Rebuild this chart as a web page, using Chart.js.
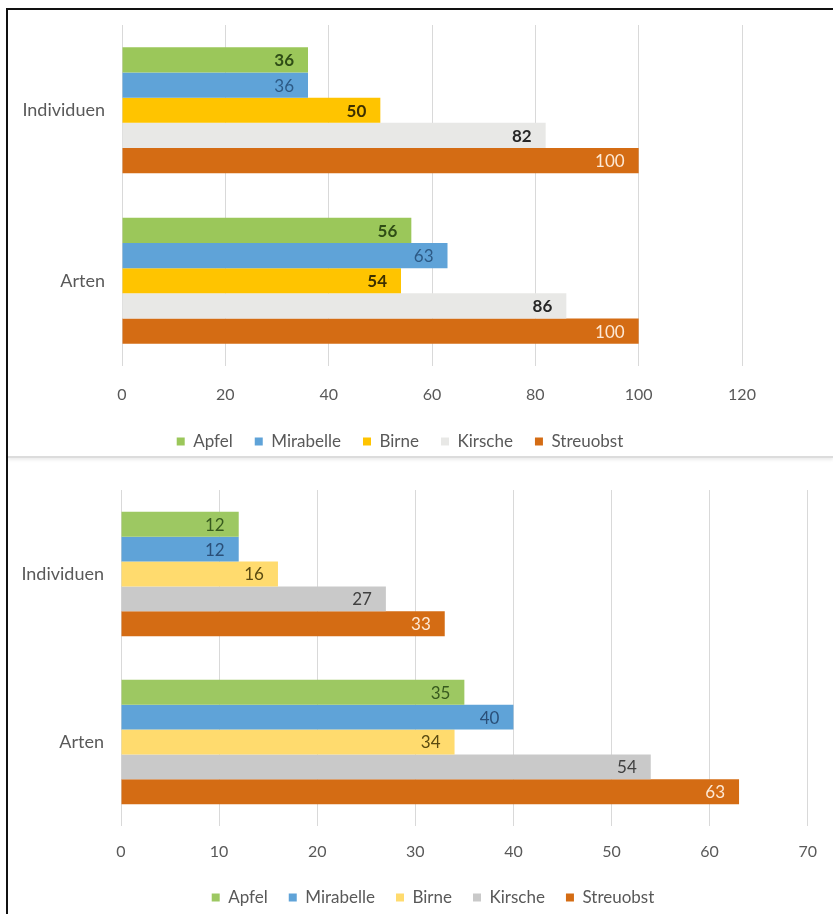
<!DOCTYPE html>
<html>
<head>
<meta charset="utf-8">
<script src="https://cdn.jsdelivr.net/npm/chart.js@4"></script>
<style>
  body { margin: 0; background: #fff; }
  #frame { position: absolute; left: 6px; top: 8px; width: 840px; height: 920px;
           border-left: 2px solid #111; border-top: 2px solid #111; }
  #topBox { position: absolute; left: 0; top: 0; width: 825px; height: 446px;
            border-bottom: 2px solid #dcdcdc; box-shadow: 0 2px 3px rgba(0,0,0,0.08); }
  #bottomBox { position: absolute; left: 0; top: 450px; width: 825px; height: 456px; }
</style>
</head>
<body>
<div id="frame">
  <div id="topBox"><canvas id="topChart" width="825" height="446"></canvas></div>
  <div id="bottomBox"><canvas id="bottomChart" width="825" height="456"></canvas></div>
</div>
<script>
'use strict';

const categories = ['Individuen', 'Arten'];
const seriesNames = ['Apfel', 'Mirabelle', 'Birne', 'Kirsche', 'Streuobst'];

// oberes Diagramm
const apfelTop = [36, 56];
const mirabelleTop = [36, 63];
const birneTop = [50, 54];
const kirscheTop = [82, 86];
const streuobstTop = [100, 100];

// unteres Diagramm
const apfelBottom = [12, 35];
const mirabelleBottom = [12, 40];
const birneBottom = [16, 34];
const kirscheBottom = [27, 54];
const streuobstBottom = [33, 63];

const topTicks = [0, 20, 40, 60, 80, 100, 120];
const bottomTicks = [0, 10, 20, 30, 40, 50, 60, 70];

const FONT = 'Lato';
const GREY = '#595959';

// value labels inside the bar end
const barLabels = {
  id: 'barLabels',
  afterDatasetsDraw(chart) {
    const c = chart.ctx;
    c.save();
    c.textAlign = 'right';
    c.textBaseline = 'middle';
    chart.data.datasets.forEach((ds, i) => {
      const meta = chart.getDatasetMeta(i);
      c.font = (ds.labelWeight || 'normal') + ' 17px ' + FONT;
      meta.data.forEach((bar, j) => {
        c.fillStyle = ds.labelColor;
        c.fillText(Math.round(ds.data[j]), bar.x - 14, bar.y + 1);
      });
    });
    c.restore();
  }
};

// move the legend a bit (it is not centred under the plot in the original)
const legendShift = {
  id: 'legendShift',
  afterLayout(chart, args, opts) {
    const lg = chart.legend;
    lg.left += opts.dx; lg.right += opts.dx;
    lg.top += opts.dy; lg.bottom += opts.dy;
  }
};

function makeChart(id, values, colors, labelColors, weights, ticks, dims) {
  return new Chart(document.getElementById(id), {
    type: 'bar',
    data: {
      labels: categories,
      datasets: seriesNames.map((name, i) => ({
        label: name,
        data: values[i],
        backgroundColor: colors[i],
        labelColor: labelColors[i],
        labelWeight: weights[i],
        borderWidth: 0,
        categoryPercentage: 0.74,
        barPercentage: 1.0
      }))
    },
    options: {
      indexAxis: 'y',
      responsive: false,
      animation: false,
      layout: { padding: { top: dims.top, right: dims.right, left: 0, bottom: 0 } },
      scales: {
        x: {
          min: ticks[0],
          max: ticks[ticks.length - 1],
          afterBuildTicks: (s) => { s.ticks = ticks.map(v => ({ value: v })); },
          grid: { color: '#d9d9d9', lineWidth: 1, drawTicks: false },
          border: { display: false },
          ticks: { color: GREY, font: { family: FONT, size: 16 }, padding: dims.tickPad },
          afterFit: (s) => { s.height = dims.axisH; }
        },
        y: {
          grid: { display: false, drawTicks: true, tickLength: 17 },
          border: { display: false },
          ticks: { color: GREY, font: { family: FONT, size: 18 }, padding: 0 },
          afterFit: (s) => { s.width = dims.axisW; }
        }
      },
      plugins: {
        legend: {
          position: 'bottom',
          labels: {
            color: GREY,
            font: { family: FONT, size: 17 },
            boxWidth: 8,
            boxHeight: 8,
            padding: dims.legendPad
          }
        },
        tooltip: { enabled: false },
        legendShift: { dx: dims.legendDx, dy: dims.legendDy }
      }
    },
    plugins: [barLabels, legendShift]
  });
}

makeChart('topChart',
  [apfelTop, mirabelleTop, birneTop, kirscheTop, streuobstTop],
  ['#9bc75a', '#5fa3d8', '#ffc400', '#e8e8e6', '#d46c14'],
  ['#2f4d16', '#2d5a86', '#3d3000', '#262626', '#fde9d6'],
  ['bold', 'normal', 'bold', 'bold', 'normal'],
  topTicks,
  { top: 15, right: 91, axisW: 114, axisH: 41, tickPad: 19, legendPad: 22, legendDx: 25, legendDy: 4 });

makeChart('bottomChart',
  [apfelBottom, mirabelleBottom, birneBottom, kirscheBottom, streuobstBottom],
  ['#9dc862', '#5fa3d8', '#ffdb6e', '#c9c9c9', '#d46c14'],
  ['#375a1e', '#2a4f78', '#5a4a10', '#404040', '#fde9d6'],
  ['normal', 'normal', 'normal', 'normal', 'normal'],
  bottomTicks,
  { top: 30, right: 21, axisW: 113, axisH: 42, tickPad: 16, legendPad: 21, legendDx: 23, legendDy: 0 });
</script>
</body>
</html>
